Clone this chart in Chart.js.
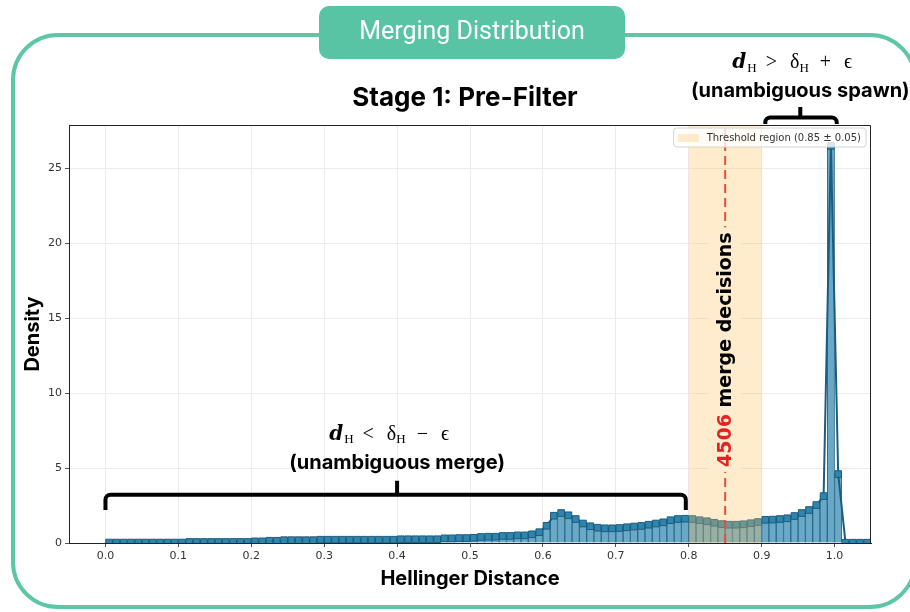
<!DOCTYPE html>
<html>
<head>
<meta charset="utf-8">
<script src="https://cdn.jsdelivr.net/npm/chart.js@4.4.1/dist/chart.umd.min.js"></script>
<style>
html, body { margin: 0; padding: 0; background: #fff; }
canvas { display: block; }
</style>
</head>
<body>
<canvas id="myChart" width="910" height="612"></canvas>
<script>
// histogram bins (centres, width 0.01)
const binCenters = [
    0.005, 0.015, 0.025, 0.035, 0.045, 0.055, 0.065, 0.075, 0.085, 0.095,
    0.105, 0.115, 0.125, 0.135, 0.145, 0.155, 0.165, 0.175, 0.185, 0.195,
    0.205, 0.215, 0.225, 0.235, 0.245, 0.255, 0.265, 0.275, 0.285, 0.295,
    0.305, 0.315, 0.325, 0.335, 0.345, 0.355, 0.365, 0.375, 0.385, 0.395,
    0.405, 0.415, 0.425, 0.435, 0.445, 0.455, 0.465, 0.475, 0.485, 0.495,
    0.505, 0.515, 0.525, 0.535, 0.545, 0.555, 0.565, 0.575, 0.585, 0.595,
    0.605, 0.615, 0.625, 0.635, 0.645, 0.655, 0.665, 0.675, 0.685, 0.695,
    0.705, 0.715, 0.725, 0.735, 0.745, 0.755, 0.765, 0.775, 0.785, 0.795,
    0.805, 0.815, 0.825, 0.835, 0.845, 0.855, 0.865, 0.875, 0.885, 0.895,
    0.905, 0.915, 0.925, 0.935, 0.945, 0.955, 0.965, 0.975, 0.985, 0.995,
    1.005, 1.015, 1.025, 1.035, 1.045
];
const densityValues = [
    0.03, 0.03, 0.03, 0.03, 0.03, 0.03, 0.03, 0.03, 0.03, 0.03,
    0.03, 0.07, 0.07, 0.07, 0.07, 0.07, 0.07, 0.07, 0.07, 0.07,
    0.11, 0.11, 0.15, 0.15, 0.19, 0.19, 0.19, 0.19, 0.19, 0.22,
    0.22, 0.22, 0.22, 0.22, 0.22, 0.22, 0.22, 0.22, 0.22, 0.22,
    0.25, 0.25, 0.25, 0.25, 0.25, 0.25, 0.31, 0.31, 0.33, 0.33,
    0.35, 0.40, 0.42, 0.42, 0.47, 0.47, 0.51, 0.51, 0.58, 0.72,
    1.15, 1.82, 2.00, 1.85, 1.60, 1.30, 1.12, 1.02, 0.98, 0.98,
    1.00, 1.05, 1.10, 1.14, 1.22, 1.30, 1.38, 1.52, 1.60, 1.62,
    1.60, 1.52, 1.45, 1.35, 1.26, 1.22, 1.22, 1.25, 1.32, 1.40,
    1.55, 1.56, 1.60, 1.65, 1.80, 2.00, 2.20, 2.53, 3.13, 26.5,
    4.60, 0.02, 0.02, 0.02, 0.02
];
const xTickValues = [0.0, 0.1, 0.2, 0.3, 0.4, 0.5, 0.6, 0.7, 0.8, 0.9, 1.0];
const yTickValues = [0, 5, 10, 15, 20, 25];
const thresholdCenter = 0.85;
const thresholdHalf = 0.05;
const mergeCount = 4506;

const spanColor = 'rgba(255,193,90,0.3)';
const labelBoxColor = '#ffecce';
const teal = '#58c4a3';
const boldFont = 'Inter';

const points = binCenters.map((b, i) => ({x: b, y: densityValues[i]}));

function roundRectPath(c, x, y, w, h, r) {
    c.beginPath();
    c.moveTo(x + r, y);
    c.arcTo(x + w, y, x + w, y + h, r);
    c.arcTo(x + w, y + h, x, y + h, r);
    c.arcTo(x, y + h, x, y, r);
    c.arcTo(x, y, x + w, y, r);
    c.closePath();
}

function drawBrace(c, xl, xr, xm, yBar, yEnd, yTip) {
    const r = 5;
    c.beginPath();
    c.moveTo(xl, yEnd);
    c.arcTo(xl, yBar, xl + r, yBar, r);
    c.arcTo(xr, yBar, xr, yEnd, r);
    c.lineTo(xr, yEnd);
    c.moveTo(xm, yBar);
    c.lineTo(xm, yTip);
    c.stroke();
}

// segments: [text, font, dy, gap before]
function drawMath(c, segs, cx, baseY) {
    const widths = segs.map(s => { c.font = s[1]; return c.measureText(s[0]).width; });
    const total = segs.reduce((acc, s, i) => acc + s[3] + widths[i], 0);
    let xp = cx - total / 2;
    c.textAlign = 'left';
    c.textBaseline = 'alphabetic';
    c.fillStyle = '#000';
    segs.forEach((s, i) => {
        xp += s[3];
        c.font = s[1];
        c.fillText(s[0], xp, baseY + s[2]);
        xp += widths[i];
    });
}

const fD = 'bold italic 20px "DejaVu Serif"';
const fSub = '13px "Liberation Serif"';
const fOp = '20px "Liberation Serif"';
function mathSegs(op, sign) {
    return [
        ['d', fD, 0, 0], ['H', fSub, 3.5, 1],
        [op, fOp, 0, 9], ['\u03b4', fOp, 0, 13], ['H', fSub, 3.5, 0],
        [sign, fOp, 0, 11], ['\u03f5', fOp, 0, 13]
    ];
}

const decor = {
    id: 'decor',
    beforeDraw(chart) {
        const c = chart.ctx;
        c.save();
        c.fillStyle = '#fff';
        c.fillRect(0, 0, chart.width, chart.height);
        c.strokeStyle = '#5dc6a6';
        c.lineWidth = 4;
        roundRectPath(c, 13, 35, 902, 572, 45);
        c.stroke();
        c.restore();
    },
    afterDatasetsDraw(chart) {
        const {ctx: c, chartArea: a, scales: {x, y}} = chart;
        const x0 = x.getPixelForValue(thresholdCenter - thresholdHalf);
        const x1 = x.getPixelForValue(thresholdCenter + thresholdHalf);
        const xc = x.getPixelForValue(thresholdCenter);
        c.save();
        c.fillStyle = spanColor;
        c.fillRect(x0, a.top, x1 - x0, a.bottom - a.top);

        c.strokeStyle = '#e74c3c';
        c.lineWidth = 2;
        c.setLineDash([9, 5]);
        c.beginPath();
        c.moveTo(xc, a.bottom);
        c.lineTo(xc, a.top);
        c.stroke();
        c.setLineDash([]);

        // rotated count label
        c.font = 'bold 19px "DejaVu Sans"';
        const p1 = String(mergeCount), p2 = ' merge decisions';
        const w1 = c.measureText(p1).width, w2 = c.measureText(p2).width;
        const tw = w1 + w2;
        c.translate(xc, y.getPixelForValue(12.9));
        c.rotate(-Math.PI / 2);
        c.fillStyle = labelBoxColor;
        c.fillRect(-tw / 2 - 5, -16, tw + 10, 32);
        c.textAlign = 'left';
        c.textBaseline = 'middle';
        c.fillStyle = '#e52222';
        c.fillText(p1, -tw / 2, 1);
        c.fillStyle = '#000';
        c.fillText(p2, -tw / 2 + w1, 1);
        c.restore();
    },
    afterDraw(chart) {
        const {ctx: c, chartArea: a, scales: {x, y}} = chart;
        c.save();
        // top & right spines
        c.strokeStyle = '#222';
        c.lineWidth = 1;
        c.beginPath();
        c.moveTo(a.left, Math.round(a.top) + 0.5);
        c.lineTo(Math.round(a.right) - 0.5, Math.round(a.top) + 0.5);
        c.lineTo(Math.round(a.right) - 0.5, a.bottom);
        c.stroke();

        // legend
        const lt = 'Threshold region (' + thresholdCenter.toFixed(2) + ' \u00b1 ' + thresholdHalf.toFixed(2) + ')';
        c.font = '10px "DejaVu Sans"';
        const lw = c.measureText(lt).width + 38;
        const lx0 = a.right - 5 - lw, ly0 = a.top + 3, lh = 19;
        roundRectPath(c, lx0, ly0, lw, lh, 3);
        c.fillStyle = 'rgba(255,255,255,0.8)';
        c.fill();
        c.strokeStyle = '#d4d4d4';
        c.stroke();
        c.fillStyle = spanColor;
        c.fillRect(lx0 + 4, ly0 + 6, 21, 8);
        c.fillStyle = '#333';
        c.textAlign = 'left';
        c.textBaseline = 'middle';
        c.fillText(lt, lx0 + 33, ly0 + lh / 2 + 0.5);

        // braces
        c.strokeStyle = '#000';
        c.lineWidth = 4;
        drawBrace(c, x.getPixelForValue(0.0), x.getPixelForValue(0.796), x.getPixelForValue(0.4),
            y.getPixelForValue(3.22), y.getPixelForValue(2.2), y.getPixelForValue(4.15));
        drawBrace(c, x.getPixelForValue(0.905), x.getPixelForValue(1.003), x.getPixelForValue(0.953),
            y.getPixelForValue(28.39), y.getPixelForValue(27.95), y.getPixelForValue(29.09));

        // annotation texts
        drawMath(c, mathSegs('<', '\u2212'), x.getPixelForValue(0.4) - 8, y.getPixelForValue(6.89));
        drawMath(c, mathSegs('>', '+'), x.getPixelForValue(0.953) - 8, y.getPixelForValue(31.69));
        c.font = 'bold 20px ' + boldFont;
        c.textAlign = 'center';
        c.textBaseline = 'middle';
        c.fillStyle = '#000';
        c.fillText('(unambiguous merge)', x.getPixelForValue(0.4), y.getPixelForValue(5.35));
        c.fillText('(unambiguous spawn)', x.getPixelForValue(0.953), y.getPixelForValue(30.15));

        // subplot title
        c.font = 'bold 26px ' + boldFont;
        c.fillText('Stage 1: Pre-Filter', 465, 98);

        // header badge
        roundRectPath(c, 319, 6, 306, 53, 10);
        c.fillStyle = teal;
        c.fill();
        c.fillStyle = '#fff';
        c.font = '25px Roboto';
        c.fillText('Merging Distribution', 472, 33);
        c.restore();
    }
};

new Chart(document.getElementById('myChart'), {
    type: 'bar',
    data: {
        datasets: [
            {
                type: 'line',
                data: points,
                borderColor: '#1d5b80',
                borderWidth: 2,
                pointStyle: 'rect',
                pointRadius: 4.7,
                pointBackgroundColor: '#2f86ad',
                pointBorderColor: '#1d5b80',
                pointBorderWidth: 1,
                tension: 0,
                clip: 0,
                order: 0
            },
            {
                type: 'bar',
                data: points,
                backgroundColor: '#6aa9c6',
                borderColor: '#2b6a8d',
                borderWidth: 1,
                barPercentage: 1,
                categoryPercentage: 1,
                clip: 0,
                order: 1
            }
        ]
    },
    options: {
        responsive: false,
        animation: false,
        devicePixelRatio: 1,
        layout: {padding: {left: 12, right: 39, top: 125, bottom: 20}},
        plugins: {legend: {display: false}, tooltip: {enabled: false}},
        scales: {
            x: {
                type: 'linear',
                min: -0.05,
                max: 1.05,
                offset: false,
                grid: {offset: false, color: '#ebebeb', tickColor: '#555', tickLength: 4},
                border: {color: '#222', width: 1},
                ticks: {
                    font: {family: 'DejaVu Sans', size: 11},
                    color: '#333',
                    padding: 3,
                    maxRotation: 0,
                    callback: v => Number(v).toFixed(1)
                },
                afterBuildTicks: s => { s.ticks = xTickValues.map(v => ({value: v})); },
                afterFit: s => { s.height = 49; },
                title: {
                    display: true,
                    text: 'Hellinger Distance',
                    color: '#000',
                    font: {family: boldFont, size: 20, weight: 'bold'},
                    padding: {top: 0, bottom: 1}
                }
            },
            y: {
                min: 0,
                max: 27.89,
                grid: {color: '#ebebeb', tickColor: '#555', tickLength: 4},
                border: {color: '#222', width: 1},
                ticks: {
                    font: {family: 'DejaVu Sans', size: 11},
                    color: '#333',
                    padding: 3,
                    callback: v => String(v)
                },
                afterBuildTicks: s => { s.ticks = yTickValues.map(v => ({value: v})); },
                afterFit: s => { s.width = 57; },
                title: {
                    display: true,
                    text: 'Density',
                    color: '#000',
                    font: {family: boldFont, size: 20, weight: 'bold'},
                    padding: {top: 9, bottom: 0}
                }
            }
        }
    },
    plugins: [decor]
});
</script>
</body>
</html>
